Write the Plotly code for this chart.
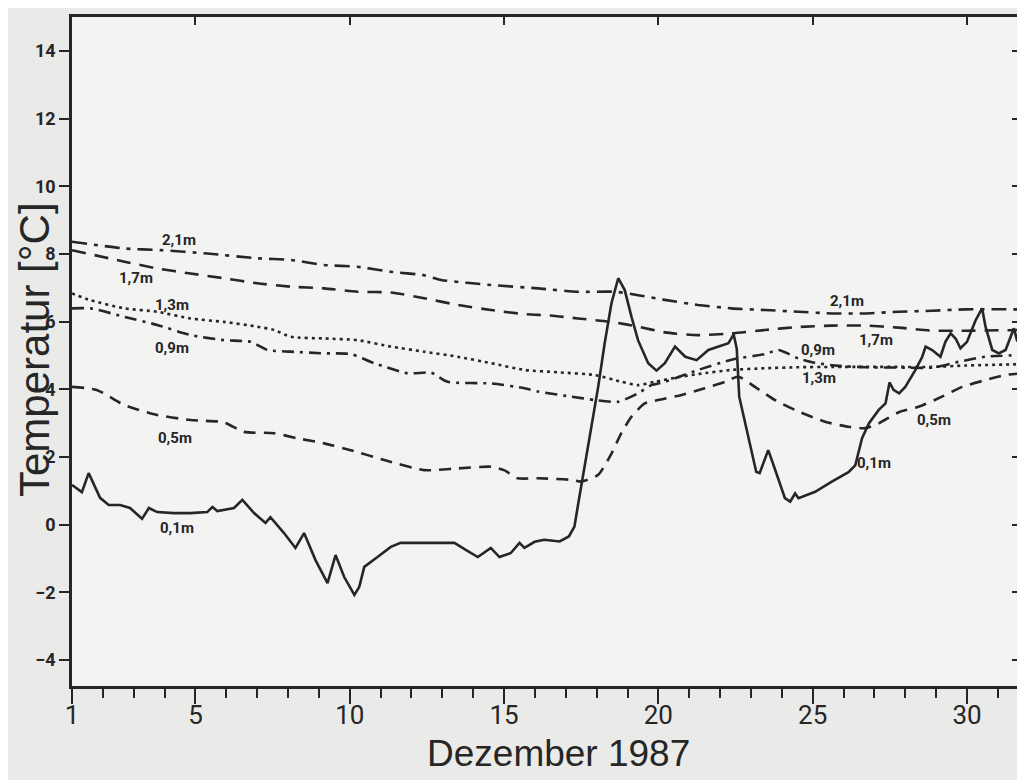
import plotly.graph_objects as go

# ---------------- data ----------------
days_01 = [1.0, 1.32, 1.54, 1.91, 2.19, 2.56, 2.88, 3.27, 3.49, 3.76, 4.30, 4.83, 5.38, 5.55, 5.71,
           6.25, 6.52, 6.90, 7.27, 7.43, 7.87, 8.24, 8.52, 8.89, 9.28, 9.54, 9.82, 10.15, 10.31, 10.47,
           10.90, 11.33, 11.65, 12.42, 13.39, 13.76, 14.15, 14.57, 14.85, 15.22, 15.50, 15.66, 15.99,
           16.3, 16.8, 17.1, 17.28, 17.4, 17.61, 17.83, 18.05, 18.26, 18.48, 18.70, 18.91, 19.13, 19.34,
           19.67, 19.94, 20.21, 20.54, 20.87, 21.24, 21.62, 21.94, 22.27, 22.44, 22.54, 22.62, 22.90,
           23.17, 23.28, 23.56, 23.75, 24.10, 24.27, 24.43, 24.54, 25.08, 25.62, 26.16, 26.38, 26.49,
           26.60, 26.82, 27.14, 27.36, 27.49, 27.62, 27.80, 28.00, 28.33, 28.55, 28.66, 28.87, 29.14,
           29.30, 29.47, 29.63, 29.79, 30.00, 30.28, 30.49, 30.60, 30.82, 31.03, 31.25, 31.41, 31.52,
           31.62, 31.75]
temp_01 = [1.17, 0.96, 1.52, 0.79, 0.58, 0.58, 0.49, 0.17, 0.49, 0.37, 0.34, 0.34, 0.37, 0.52, 0.40,
           0.49, 0.73, 0.34, 0.05, 0.22, -0.25, -0.69, -0.25, -1.05, -1.73, -0.90, -1.55, -2.08, -1.84,
           -1.25, -0.96, -0.66, -0.54, -0.54, -0.54, -0.75, -0.96, -0.69, -0.96, -0.84, -0.54, -0.69,
           -0.51, -0.45, -0.50, -0.35, -0.06, 0.60, 1.71, 2.89, 4.07, 5.36, 6.54, 7.28, 6.93, 6.14, 5.45,
           4.77, 4.55, 4.77, 5.26, 4.96, 4.86, 5.16, 5.26, 5.36, 5.62, 5.20, 3.78, 2.60, 1.56, 1.52, 2.20,
           1.71, 0.78, 0.68, 0.92, 0.78, 0.97, 1.27, 1.55, 1.75, 2.20, 2.55, 2.99, 3.39, 3.58, 4.20,
           3.98, 3.88, 4.07, 4.57, 4.96, 5.26, 5.16, 4.96, 5.40, 5.65, 5.50, 5.21, 5.40, 6.04, 6.39,
           5.85, 5.16, 5.06, 5.16, 5.55, 5.80, 5.45, 5.50]

days_05 = [1.0, 1.8, 2.7, 3.76, 4.84, 5.92, 6.57, 7.55, 8.3, 9.17, 10.03, 11.12, 12.41, 13.5, 14.58,
           15.0, 15.44, 16.1, 17.2, 17.5, 18.05, 18.48, 18.8, 19.13, 19.56, 19.99, 20.75, 21.5, 22.16,
           22.59, 23.13, 23.78, 24.54, 25.4, 26.16, 26.7, 27.14, 27.79, 28.43, 29.19, 29.84, 30.6,
           31.25, 31.75]
temp_05 = [4.07, 3.98, 3.53, 3.24, 3.09, 3.02, 2.74, 2.70, 2.55, 2.40, 2.20, 1.91, 1.61, 1.66, 1.71,
           1.61, 1.37, 1.37, 1.32, 1.27, 1.47, 2.10, 2.70, 3.19, 3.58, 3.68, 3.83, 4.03, 4.22, 4.37,
           4.07, 3.68, 3.34, 3.04, 2.89, 2.85, 2.99, 3.32, 3.48, 3.78, 4.07, 4.27, 4.42, 4.47]

days_09 = [1.0, 1.6, 2.7, 3.76, 4.84, 5.92, 6.79, 7.33, 8.09, 9.17, 10.03, 10.79, 11.88, 12.63, 13.17,
           14.58, 15.66, 16.1, 17.2, 17.94, 18.7, 19.34, 19.77, 20.21, 21.29, 22.4, 23.46, 23.89, 24.54,
           25.08, 25.84, 26.7, 27.8, 28.9, 29.73, 30.6, 31.75]
temp_09 = [6.39, 6.39, 6.14, 5.90, 5.60, 5.45, 5.40, 5.16, 5.11, 5.06, 5.04, 4.77, 4.47, 4.49, 4.22,
           4.17, 4.03, 3.93, 3.78, 3.68, 3.63, 3.88, 4.12, 4.22, 4.57, 4.88, 5.04, 5.16, 4.91, 4.78,
           4.69, 4.65, 4.64, 4.64, 4.81, 4.96, 5.01]

days_13 = [1.0, 1.6, 2.7, 3.76, 4.84, 5.92, 7.0, 7.55, 8.09, 9.17, 10.25, 11.33, 12.41, 13.5, 14.58,
           15.66, 16.75, 17.94, 18.8, 19.34, 19.89, 20.6, 21.3, 22.37, 23.46, 24.54, 25.62, 26.7, 27.79,
           28.87, 29.95, 31.75]
temp_13 = [6.83, 6.63, 6.39, 6.29, 6.09, 5.99, 5.85, 5.75, 5.55, 5.50, 5.45, 5.26, 5.11, 4.96, 4.77,
           4.57, 4.50, 4.42, 4.22, 4.12, 4.22, 4.35, 4.45, 4.57, 4.62, 4.65, 4.66, 4.66, 4.66, 4.66,
           4.70, 4.74]

days_17 = [1.0, 2.7, 3.76, 4.84, 5.92, 7.0, 8.09, 9.17, 10.25, 11.33, 12.41, 13.5, 14.58, 15.66, 16.5,
           17.4, 18.48, 19.34, 20.21, 21.29, 22.37, 23.46, 24.54, 25.62, 26.7, 27.79, 28.87, 29.95, 31.75]
temp_17 = [8.11, 7.77, 7.57, 7.42, 7.28, 7.13, 7.03, 6.98, 6.88, 6.86, 6.69, 6.49, 6.34, 6.22, 6.18,
           6.09, 5.99, 5.85, 5.68, 5.60, 5.65, 5.75, 5.84, 5.88, 5.88, 5.82, 5.73, 5.73, 5.75]

days_21 = [1.0, 2.7, 3.87, 5.38, 7.0, 8.09, 9.17, 10.25, 11.33, 12.41, 12.96, 14.58, 16.1, 17.4, 18.6,
           19.34, 20.21, 21.29, 22.37, 23.46, 24.54, 25.62, 26.7, 27.79, 28.87, 29.95, 31.75]
temp_21 = [8.36, 8.16, 8.11, 8.01, 7.87, 7.82, 7.67, 7.62, 7.47, 7.37, 7.23, 7.08, 6.98, 6.88, 6.88,
           6.78, 6.64, 6.49, 6.39, 6.34, 6.29, 6.24, 6.24, 6.29, 6.32, 6.36, 6.36]

# depth labels: text, day, temperature
label_text = ["2,1m", "1,7m", "1,3m", "0,9m", "0,5m", "0,1m",
              "2,1m", "1,7m", "0,9m", "1,3m", "0,5m", "0,1m"]
label_day = [4.46, 3.06, 4.25, 4.25, 4.35, 4.41,
             26.12, 27.05, 25.17, 25.2, 28.92, 27.0]
label_temp = [8.41, 7.28, 6.49, 5.21, 2.55, -0.11,
              6.60, 5.45, 5.16, 4.32, 3.09, 1.81]

x_ticks = [1, 5, 10, 15, 20, 25, 30]
y_ticks = [-4, -2, 0, 2, 4, 6, 8, 10, 12, 14]
x_range = [1, 31.75]
y_range = [-4.77, 15.0]
x_title = "Dezember 1987"
y_title = "Temperatur [°C]"

# ---------------- figure ----------------
INK = "#262626"
FONT = "Roboto, Liberation Sans, Arial, sans-serif"

# page body adds an 8px offset; size the figure so the plot lands where it should
W, H = 1017, 772
ML, MR, MT, MB = 64, 4, 9, 94

fig = go.Figure()

series = [
    (days_21, temp_21, "2,1m", "15px,7px,4px,7px", "spline"),
    (days_17, temp_17, "1,7m", "14px,9px", "spline"),
    (days_13, temp_13, "1,3m", "3px,4px", "spline"),
    (days_09, temp_09, "0,9m", "12px,6px,3px,6px", "spline"),
    (days_05, temp_05, "0,5m", "12px,8px", "spline"),
    (days_01, temp_01, "0,1m", "solid", "linear"),
]
for xs, ys, name, dash, shape in series:
    fig.add_trace(go.Scatter(
        x=xs, y=ys, mode="lines", name=name, showlegend=False,
        line=dict(color=INK, width=2.6, dash=dash, shape=shape,
                  **({"smoothing": 0.6} if shape == "spline" else {})),
        hoverinfo="x+y+name"))

# helper trace so the mirrored (top / right) axes are drawn
fig.add_trace(go.Scatter(x=[None], y=[None], xaxis="x2", yaxis="y2",
                         showlegend=False, hoverinfo="skip"))

for t, d, v in zip(label_text, label_day, label_temp):
    fig.add_annotation(x=d, y=v, text=t, showarrow=False,
                       font=dict(family=FONT, size=15, color=INK, weight="bold"))

pw = W - ML - MR
ph = H - MT - MB
# axis titles placed as paper-referenced annotations
fig.add_annotation(text=x_title, xref="paper", yref="paper",
                   x=(550 - ML) / pw, y=(H - MB - 745) / ph,
                   xanchor="center", yanchor="middle", showarrow=False,
                   font=dict(family="Liberation Sans, Arial, sans-serif", size=37, color=INK))
fig.add_annotation(text=y_title, xref="paper", yref="paper",
                   x=(26 - ML) / pw, y=(H - MB - 342) / ph, textangle=-90,
                   xanchor="center", yanchor="middle", showarrow=False,
                   font=dict(family="Liberation Sans, Arial, sans-serif", size=42, color=INK))

fig.update_layout(
    width=W, height=H,
    margin=dict(l=ML, r=MR, t=MT, b=MB),
    paper_bgcolor="#eaeae9",
    plot_bgcolor="#f3f3f2",
    showlegend=False,
    xaxis=dict(
        range=x_range, tickvals=x_ticks, ticks="outside", ticklen=15, tickwidth=2,
        tickcolor=INK, showline=True, linewidth=2.5, linecolor=INK,
        showgrid=False, zeroline=False, automargin=False, ticklabelstandoff=-11,
        tickfont=dict(family=FONT, size=26, color=INK),
        minor=dict(tickvals=list(range(1, 32)), ticks="outside", ticklen=9,
                   tickwidth=2, tickcolor=INK, showgrid=False),
    ),
    yaxis=dict(
        range=y_range, tickvals=y_ticks, ticks="outside", ticklen=10, tickwidth=2,
        tickcolor=INK, showline=True, linewidth=2.5, linecolor=INK,
        showgrid=False, zeroline=False, automargin=False,
        tickfont=dict(family=FONT, size=18, color=INK, weight="bold"),
    ),
    xaxis2=dict(
        overlaying="x", side="top", range=x_range, tickvals=[5, 10, 15, 20, 25, 30],
        ticks="inside", ticklen=8, tickwidth=2, tickcolor=INK, showticklabels=False,
        showline=True, linewidth=2.5, linecolor=INK, showgrid=False, zeroline=False,
    ),
    yaxis2=dict(
        overlaying="y", side="right", range=y_range, tickvals=y_ticks,
        ticks="inside", ticklen=9, tickwidth=2, tickcolor=INK, showticklabels=False,
        showline=True, linewidth=2.5, linecolor=INK, showgrid=False, zeroline=False,
    ),
)

fig.write_html("out.html")
